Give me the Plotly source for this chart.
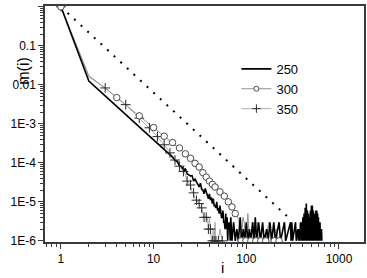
import plotly.graph_objects as go

# ---------------- data ----------------
# series "250": m(i) at each size i
i250 = list(range(1, 69)) + [70, 73, 76, 79, 82, 86, 89, 93, 96, 100, 104, 108, 112, 117, 121, 125,
                              129, 136, 142, 150, 156, 166, 172, 180, 188, 198, 206, 226, 234, 258,
                              266, 300, 304, 310, 316, 340, 346, 360,
                              366, 372, 378, 384, 390, 396, 402, 408, 414, 420, 426, 432, 438, 444,
                              450, 456, 462, 468, 474, 480, 486, 492, 498, 504, 510, 516, 522, 528,
                              534, 540, 546, 552, 558, 564, 570, 576, 582, 588, 594, 600, 606, 612,
                              618, 624, 630, 636, 642, 648, 654]
m250 = [1, 0.0125, 0.0052, 0.0028, 0.00175, 0.00118, 0.00085, 0.00063, 0.00049, 0.00039,
        0.00032, 0.00026, 0.00022, 0.00019, 0.00016, 0.00014, 0.000115, 0.00011, 8.5e-5, 8.0e-5,
        6.6e-5, 7.0e-5, 5.2e-5, 5.0e-5, 4.6e-5, 4.7e-5, 3.4e-5, 3.8e-5, 3.2e-5, 2.6e-5,
        2.4e-5, 3.0e-5, 2.1e-5, 2.0e-5, 1.6e-5, 2.2e-5, 1.7e-5, 1.3e-5, 1.2e-5, 1.6e-5,
        1.1e-5, 1.3e-5, 9e-6, 1.2e-5, 8e-6, 8e-6, 7e-6, 1e-5, 6e-6, 7e-6,
        5e-6, 8e-6, 5e-6, 4e-6, 4e-6, 6e-6, 3e-6, 3e-6, 2e-6, 5e-6,
        2e-6, 4e-6, 1e-6, 3e-6, 2e-6, 3e-6, 1e-6, 4e-6,
        1e-6, 3e-6, 1e-6, 2e-6, 1e-6, 4e-6, 1e-6, 2e-6, 1e-6, 3e-6, 1e-6, 2e-6, 1e-6, 3e-6, 1e-6, 4e-6,
        1e-6, 3e-6, 1e-6, 3e-6, 1e-6, 2e-6, 1e-6, 3e-6, 1e-6, 3e-6, 1e-6, 3e-6, 1e-6, 3e-6,
        1e-6, 3e-6, 1e-6, 3e-6, 1e-6, 3e-6, 1e-6, 2e-6,
        1e-6, 2e-6, 1e-6, 3e-6, 1e-6, 3e-6, 1e-6, 4e-6, 1e-6, 5e-6, 1e-6, 7e-6, 1e-6, 9e-6,
        1e-6, 6e-6, 1e-6, 5e-6, 1e-6, 4e-6, 1e-6, 6e-6, 1e-6, 8e-6, 1e-6, 8e-6, 1e-6, 6e-6,
        1e-6, 5e-6, 1e-6, 5e-6, 1e-6, 6e-6, 1e-6, 6e-6, 1e-6, 5e-6, 1e-6, 4e-6, 1e-6, 3e-6,
        1e-6, 3e-6, 1e-6, 2e-6, 1e-6, 2e-6, 1e-6]

# series "300"
i300 = list(range(1, 47)) + [48, 50, 52, 54, 56, 58, 60, 62, 64, 66, 68, 70, 72, 74, 76,
                              79, 83, 88, 92, 95, 99, 104, 108, 112, 118, 122, 127, 131, 136,
                              143, 150, 156, 162, 175, 185, 200, 210, 218, 226]
m300 = [1, 0.017, 0.0082, 0.0047, 0.0031, 0.0022, 0.0016, 0.00125, 0.00098, 0.0008,
        0.00066, 0.00056, 0.00048, 0.00042, 0.00037, 0.00033, 0.00029, 0.00026, 0.00024, 0.00021,
        0.00019, 0.00017, 0.00015, 0.00014, 0.00013, 0.000115, 0.000105, 9.7e-5, 9.0e-5, 8.3e-5,
        7.8e-5, 7.2e-5, 6.6e-5, 5.6e-5, 5.3e-5, 4.9e-5, 4.3e-5, 4.0e-5, 3.7e-5, 3.4e-5,
        3.2e-5, 3.0e-5, 2.8e-5, 2.7e-5, 2.5e-5, 2.4e-5,
        2.2e-5, 2.0e-5, 1.8e-5, 1.6e-5, 1.5e-5, 1.4e-5, 1.25e-5, 1.15e-5, 1.0e-5, 9e-6,
        8e-6, 7.4e-6, 6.6e-6, 6e-6, 5e-6,
        4.5e-6, 3.5e-6, 1e-6, 4e-6, 3e-6, 1e-6, 5e-6, 1e-6, 1e-6, 3e-6, 1e-6, 1e-6, 3e-6, 1e-6,
        1e-6, 2e-6, 1e-6, 1e-6, 3e-6, 1e-6, 1e-6, 2e-6, 1e-6, 1e-6]

# series "350"
i350 = list(range(1, 49)) + [50, 52, 55]
m350 = [1, 0.016, 0.0083, 0.0048, 0.0031, 0.0020, 0.0014, 0.00105, 0.00079, 0.0006,
        0.00047, 0.00037, 0.00029, 0.00023, 0.00018, 0.000145, 0.000118, 9.8e-5, 8.2e-5, 7.2e-5,
        6.0e-5, 5.0e-5, 3.4e-5, 3.0e-5, 2.7e-5, 1.8e-5, 1.7e-5, 1.2e-5, 1.1e-5, 1.0e-5,
        9e-6, 7e-6, 7e-6, 5e-6, 4e-6, 4e-6, 4e-6, 4e-6, 2e-6, 4e-6,
        2e-6, 1e-6, 1e-6, 2e-6, 1e-6, 3e-6, 1e-6, 1e-6,
        1e-6, 2e-6, 1e-6]

# dotted reference line (end points)
i_ref = [1, 290]
m_ref = [1.0, 3.8e-6]

series_names = ["250", "300", "350"]
x_tick_vals = [1, 10, 100, 1000]
x_tick_text = ["1", "10", "100", "1000"]
y_tick_vals = [1e-6, 1e-5, 1e-4, 1e-3, 1e-2, 1e-1, 1]
y_tick_text = ["1E-6", "1E-5", "1E-4", "1E-3", "0.01", "0.1", "1"]

# ---------------- figure ----------------
FONT = "Liberation Sans, Arial, sans-serif"
c300_line, c300_mk = "#909090", "#4a4a4a"
c350_line, c350_mk = "#ababab", "#2a2a2a"

fig = go.Figure()

fig.add_trace(go.Scatter(x=i_ref, y=m_ref, mode="lines", showlegend=False,
                         line=dict(color="black", width=2, dash="2px,7px")))

fig.add_trace(go.Scatter(x=i350, y=m350, mode="lines", showlegend=False,
                         line=dict(color=c350_line, width=1)))
fig.add_trace(go.Scatter(x=i300, y=m300, mode="lines", showlegend=False,
                         line=dict(color=c300_line, width=1)))
fig.add_trace(go.Scatter(x=i250, y=m250, mode="lines", showlegend=False,
                         line=dict(color="black", width=1.6)))

k300 = [k for k in range(len(i300)) if k % 3 == 0]
k350 = [k for k in range(len(i350)) if k % 2 == 0]
fig.add_trace(go.Scatter(x=[i350[k] for k in k350], y=[m350[k] for k in k350], mode="markers",
                         showlegend=False,
                         marker=dict(symbol="cross-thin-open", size=7, color=c350_mk,
                                     line=dict(color=c350_mk, width=1))))
fig.add_trace(go.Scatter(x=[i300[k] for k in k300], y=[m300[k] for k in k300], mode="markers",
                         showlegend=False,
                         marker=dict(symbol="circle", size=6.5, color="white",
                                     line=dict(color=c300_mk, width=1))))

# legend entries
fig.add_trace(go.Scatter(x=[None], y=[None], mode="lines", name=series_names[0],
                         line=dict(color="black", width=1.6)))
fig.add_trace(go.Scatter(x=[None], y=[None], mode="lines+markers", name=series_names[1],
                         line=dict(color=c300_line, width=1),
                         marker=dict(symbol="circle", size=5, color="white",
                                     line=dict(color=c300_mk, width=1))))
fig.add_trace(go.Scatter(x=[None], y=[None], mode="lines+markers", name=series_names[2],
                         line=dict(color=c350_line, width=1),
                         marker=dict(symbol="cross-thin-open", size=6, color=c350_mk,
                                     line=dict(color=c350_mk, width=1))))

x_minor = [d * 10 ** e for e in range(-1, 4) for d in range(2, 10)]
y_minor = [d * 10 ** e for e in range(-7, 1) for d in range(2, 10)]

axis_common = dict(type="log", showgrid=False, zeroline=False, showline=True,
                   linecolor="#3a3a3a", linewidth=1.5, mirror=True, automargin=False,
                   ticks="outside", ticklen=5, tickwidth=1, tickcolor="#3a3a3a",
                   tickfont=dict(family=FONT, size=12, color="black"))

fig.update_xaxes(**axis_common, range=[-0.172, 3.27], tickmode="array",
                 tickvals=x_tick_vals, ticktext=x_tick_text,
                 minor=dict(ticks="outside", ticklen=3, tickcolor="#3a3a3a",
                            tickmode="array", tickvals=x_minor))
fig.update_yaxes(**axis_common, range=[-6.03, 0.02], tickmode="array",
                 tickvals=y_tick_vals, ticktext=y_tick_text,
                 minor=dict(ticks="outside", ticklen=3, tickcolor="#3a3a3a",
                            tickmode="array", tickvals=y_minor))

fig.update_layout(
    template="none",
    width=367, height=278,
    margin=dict(l=45, r=3, t=6, b=36, autoexpand=False),
    paper_bgcolor="white", plot_bgcolor="white",
    font=dict(family=FONT, size=13, color="black"),
    showlegend=True,
    legend=dict(x=0.6, y=0.797, xanchor="left", yanchor="top",
                bgcolor="rgba(0,0,0,0)", font=dict(family=FONT, size=13, color="black"),
                tracegroupgap=0, itemwidth=30),
    annotations=[
        dict(text="m(i)", x=-0.103, y=0.792, xref="paper", yref="paper",
             textangle=-90, showarrow=False,
             font=dict(family=FONT, size=16, color="black")),
        dict(text="i", x=0.555, y=-0.1525, xref="paper", yref="paper", yanchor="bottom",
             showarrow=False, font=dict(family=FONT, size=15, color="black")),
    ],
)

fig.write_html("out.html", config={"displayModeBar": False},
               post_script="document.body.style.margin='0';document.body.style.overflow='hidden';")
